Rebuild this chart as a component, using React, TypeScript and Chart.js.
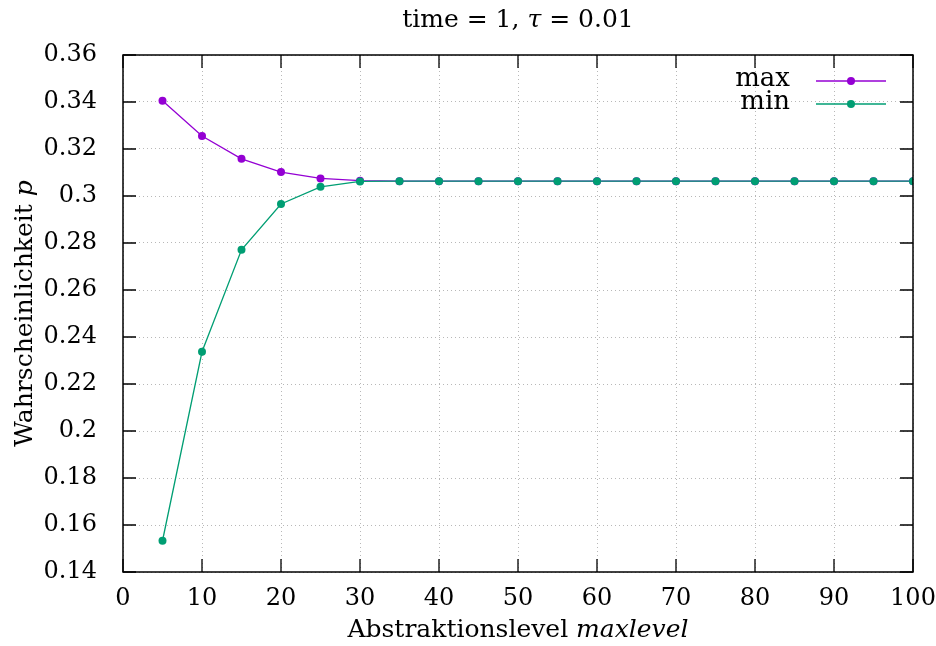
import React, { useEffect, useRef } from "react";
import { Chart, registerables } from "chart.js";

Chart.register(...registerables);

const levels = [5, 10, 15, 20, 25, 30, 35, 40, 45, 50, 55, 60, 65, 70, 75, 80, 85, 90, 95, 100];
const maxValues = [0.3405, 0.3255, 0.3158, 0.3102, 0.3075, 0.3065, 0.3063, 0.3063, 0.3063, 0.3063, 0.3063, 0.3063, 0.3063, 0.3063, 0.3063, 0.3063, 0.3063, 0.3063, 0.3063, 0.3063];
const minValues = [0.1533, 0.2337, 0.2771, 0.2966, 0.3039, 0.3062, 0.3063, 0.3063, 0.3063, 0.3063, 0.3063, 0.3063, 0.3063, 0.3063, 0.3063, 0.3063, 0.3063, 0.3063, 0.3063, 0.3063];
const xTicks = [0, 10, 20, 30, 40, 50, 60, 70, 80, 90, 100];
const yTicks = [0.14, 0.16, 0.18, 0.2, 0.22, 0.24, 0.26, 0.28, 0.3, 0.32, 0.34, 0.36];

const FONT = '"DejaVu Serif", "Liberation Serif", serif';
const PURPLE = "#9400d3";
const GREEN = "#009e73";

type Seg = { t: string; i?: boolean };

function drawMixed(ctx: CanvasRenderingContext2D, segs: Seg[], x: number, y: number, size: number, align: "center" | "right") {
  let total = 0;
  const widths = segs.map((s) => {
    ctx.font = `${s.i ? "italic " : ""}${size}px ${FONT}`;
    const w = ctx.measureText(s.t).width;
    total += w;
    return w;
  });
  let cx = align === "center" ? x - total / 2 : x - total;
  ctx.textBaseline = "middle";
  ctx.textAlign = "left";
  segs.forEach((s, k) => {
    ctx.font = `${s.i ? "italic " : ""}${size}px ${FONT}`;
    ctx.fillText(s.t, cx, y);
    cx += widths[k];
  });
}

const decorPlugin = {
  id: "decor",
  afterDraw(chart: any) {
    const { ctx, chartArea: a, scales } = chart;
    ctx.save();
    ctx.fillStyle = "#000";
    ctx.strokeStyle = "#000";
    ctx.lineWidth = 1.5;
    ctx.strokeRect(a.left, a.top, a.right - a.left, a.bottom - a.top);
    ctx.lineWidth = 1.3;
    const tl = 13;
    xTicks.forEach((v) => {
      const px = scales.x.getPixelForValue(v);
      ctx.beginPath();
      ctx.moveTo(px, a.bottom);
      ctx.lineTo(px, a.bottom - tl);
      ctx.moveTo(px, a.top);
      ctx.lineTo(px, a.top + tl);
      ctx.stroke();
    });
    yTicks.forEach((v) => {
      const py = scales.y.getPixelForValue(v);
      ctx.beginPath();
      ctx.moveTo(a.left, py);
      ctx.lineTo(a.left + tl, py);
      ctx.moveTo(a.right, py);
      ctx.lineTo(a.right - tl, py);
      ctx.stroke();
    });
    drawMixed(ctx, [{ t: "time = 1, " }, { t: "τ", i: true }, { t: " = 0.01" }], (a.left + a.right) / 2, 20, 25, "center");
    drawMixed(ctx, [{ t: "Abstraktionslevel " }, { t: "maxlevel", i: true }], (a.left + a.right) / 2, 630, 25, "center");
    ctx.save();
    ctx.translate(25, (a.top + a.bottom) / 2);
    ctx.rotate(-Math.PI / 2);
    drawMixed(ctx, [{ t: "Wahrscheinlichkeit " }, { t: "p", i: true }], 0, 0, 25, "center");
    ctx.restore();
    const entries = [
      { label: "max", color: PURPLE, y: 81 },
      { label: "min", color: GREEN, y: 104 },
    ];
    entries.forEach((e) => {
      ctx.fillStyle = "#000";
      drawMixed(ctx, [{ t: e.label }], 790, e.y - 2, 26, "right");
      ctx.strokeStyle = e.color;
      ctx.lineWidth = 1.3;
      ctx.beginPath();
      ctx.moveTo(816, e.y);
      ctx.lineTo(886, e.y);
      ctx.stroke();
      ctx.fillStyle = e.color;
      ctx.beginPath();
      ctx.arc(851, e.y, 4, 0, Math.PI * 2);
      ctx.fill();
    });
    ctx.restore();
  },
};

export default function App() {
  const ref = useRef<HTMLCanvasElement>(null);
  useEffect(() => {
    document.body.style.margin = "0";
    const chart = new Chart(ref.current!, {
      type: "line",
      data: {
        datasets: [
          {
            label: "max",
            data: levels.map((x, i) => ({ x, y: maxValues[i] })),
            borderColor: PURPLE,
            backgroundColor: PURPLE,
            borderWidth: 1.3,
            pointRadius: 4,
            pointBorderWidth: 0,
            tension: 0,
            order: 1,
          },
          {
            label: "min",
            data: levels.map((x, i) => ({ x, y: minValues[i] })),
            borderColor: GREEN,
            backgroundColor: GREEN,
            borderWidth: 1.3,
            pointRadius: 4,
            pointBorderWidth: 0,
            tension: 0,
            order: 0,
          },
        ],
      },
      options: {
        animation: false,
        responsive: false,
        layout: { padding: { left: 0, right: 23, top: 55, bottom: 0 } },
        plugins: { legend: { display: false }, title: { display: false }, tooltip: { enabled: false } },
        scales: {
          x: {
            type: "linear",
            min: 0,
            max: 100,
            afterBuildTicks: (s: any) => { s.ticks = xTicks.map((v) => ({ value: v })); },
            afterFit: (s: any) => { s.height = 74; s.paddingLeft = 0; s.paddingRight = 0; },
            ticks: { color: "#000", font: { family: FONT, size: 24 }, padding: 12, maxRotation: 0, autoSkip: false, callback: (v: any) => String(v) },
            grid: { color: "#b8b8b8", lineWidth: 1, drawTicks: false },
            border: { display: false, dash: [1, 3] },
          },
          y: {
            min: 0.14,
            max: 0.36,
            afterBuildTicks: (s: any) => { s.ticks = yTicks.map((v) => ({ value: v })); },
            afterFit: (s: any) => { s.width = 123; s.paddingTop = 0; s.paddingBottom = 0; },
            ticks: { color: "#000", font: { family: FONT, size: 24 }, padding: 26, autoSkip: false, callback: (v: any) => String(Number(Number(v).toFixed(2))) },
            grid: { color: "#b8b8b8", lineWidth: 1, drawTicks: false },
            border: { display: false, dash: [1, 3] },
          },
        },
      },
      plugins: [decorPlugin],
    });
    return () => chart.destroy();
  }, []);
  return <canvas ref={ref} width={936} height={646} style={{ display: "block" }} />;
}
